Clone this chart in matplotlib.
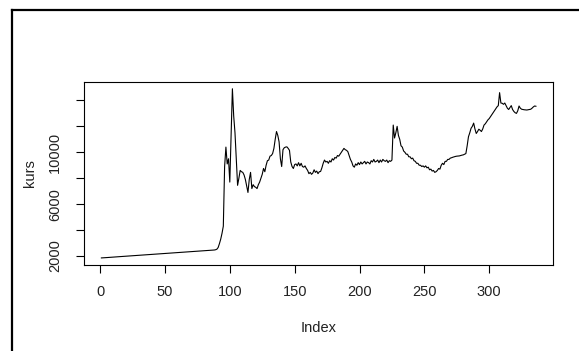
import matplotlib
matplotlib.use("Agg")
import matplotlib.pyplot as plt
from matplotlib.lines import Line2D

# daily rate (index 1..336)
kurs = [
    1850, 1855, 1862, 1870, 1876, 1884, 1890, 1897, 1905, 1912,
    1920, 1926, 1933, 1940, 1948, 1955, 1962, 1968, 1976, 1983,
    1990, 1998, 2004, 2011, 2018, 2026, 2033, 2040, 2046, 2054,
    2060, 2068, 2075, 2082, 2088, 2096, 2103, 2110, 2117, 2124,
    2131, 2138, 2145, 2152, 2160, 2166, 2173, 2180, 2187, 2194,
    2201, 2208, 2215, 2222, 2229, 2236, 2243, 2250, 2257, 2264,
    2271, 2278, 2285, 2292, 2299, 2306, 2313, 2320, 2327, 2334,
    2341, 2348, 2355, 2362, 2369, 2376, 2383, 2390, 2397, 2404,
    2411, 2418, 2425, 2432, 2440, 2446, 2453, 2460, 2480, 2520,
    2650, 2950, 3300, 3750, 4300, 8900, 10400, 9100, 9500, 7700,
    11400, 14900, 12800, 11500, 9400, 7450, 8000, 8600, 8500, 8450,
    8250, 7900, 7400, 6900, 7900, 8450, 7200, 7500, 7350, 7300,
    7200, 7500, 7700, 8000, 8300, 8750, 8500, 9000, 9350, 9400,
    9700, 9750, 9900, 10300, 11000, 11600, 11300, 10800, 9500, 8900,
    10200, 10350, 10400, 10420, 10300, 10150, 9250, 8900, 8750, 9050,
    9100, 8950, 9200, 8950, 9150, 8900, 8850, 8950, 8750, 8600,
    8350, 8450, 8300, 8400, 8650, 8450, 8550, 8350, 8500, 8520,
    8800, 9150, 9400, 9250, 9300, 9150, 9350, 9250, 9500, 9400,
    9600, 9550, 9750, 9700, 9850, 10000, 10150, 10300, 10200, 10150,
    10050, 9750, 9450, 9250, 8950, 8850, 9100, 9000, 9200, 9050,
    9250, 9100, 9200, 9300, 9100, 9250, 9200, 9100, 9350, 9250,
    9450, 9250, 9300, 9400, 9200, 9400, 9250, 9450, 9350, 9300,
    9400, 9200, 9350, 9300, 9400, 12100, 11100, 11500, 12000, 11300,
    11000, 10500, 10400, 10100, 10000, 9850, 9850, 9650, 9650, 9500,
    9550, 9350, 9300, 9150, 9150, 9000, 9000, 8900, 8950, 8850,
    8950, 8800, 8850, 8650, 8700, 8550, 8600, 8450, 8500, 8600,
    8750, 8700, 9000, 9150, 9050, 9300, 9300, 9450, 9450, 9550,
    9580, 9620, 9650, 9680, 9700, 9710, 9720, 9750, 9780, 9800,
    9850, 9900, 10500, 11200, 11500, 11850, 12000, 12250, 11800, 11450,
    11600, 11780, 11700, 11600, 11800, 12100, 12200, 12350, 12500, 12600,
    12750, 12900, 13050, 13200, 13350, 13500, 13600, 14600, 13800, 13780,
    13700, 13800, 13600, 13400, 13300, 13450, 13600, 13300, 13150, 13050,
    13000, 13200, 13570, 13400, 13320, 13300, 13280, 13270, 13260, 13280,
    13300, 13320, 13400, 13500, 13570, 13550,
]
index = list(range(1, len(kurs) + 1))

x_ticks = [0, 50, 100, 150, 200, 250, 300]
y_ticks = [2000, 4000, 6000, 8000, 10000, 12000, 14000]
y_labels = ["2000", "", "6000", "", "10000", "", ""]

plt.rcParams["font.family"] = ["Liberation Sans", "DejaVu Sans"]
txt = "#222222"

fig = plt.figure(figsize=(5.79, 3.51), dpi=100)
ax = fig.add_axes([0.1451, 0.2459, 0.8105, 0.5205])

ax.plot(index, kurs, color="black", lw=0.8)
ax.margins(x=0.04, y=0.04)

ax.set_xticks(x_ticks)
ax.set_yticks(y_ticks)
ax.set_yticklabels(y_labels, rotation=90, va="center")
ax.tick_params(direction="out", length=5.8, width=0.8, color="black",
               labelsize=10.5, labelcolor=txt)
ax.tick_params(axis="x", pad=9)
ax.tick_params(axis="y", pad=10)
for s in ax.spines.values():
    s.set_linewidth(0.8)
    s.set_color("black")

ax.set_xlabel("Index", fontsize=10.5, color=txt, labelpad=16)
ax.set_ylabel("kurs", fontsize=10.5, color=txt, labelpad=8)

# outer frame (only left and top edges show in the picture)
fig.add_artist(Line2D([0.0199, 0.0199], [0, 0.9715], transform=fig.transFigure,
                      color="black", lw=1.6))
fig.add_artist(Line2D([0.0199, 1.0], [0.9715, 0.9715], transform=fig.transFigure,
                      color="black", lw=1.6))

fig.savefig("out.png", dpi=100)
